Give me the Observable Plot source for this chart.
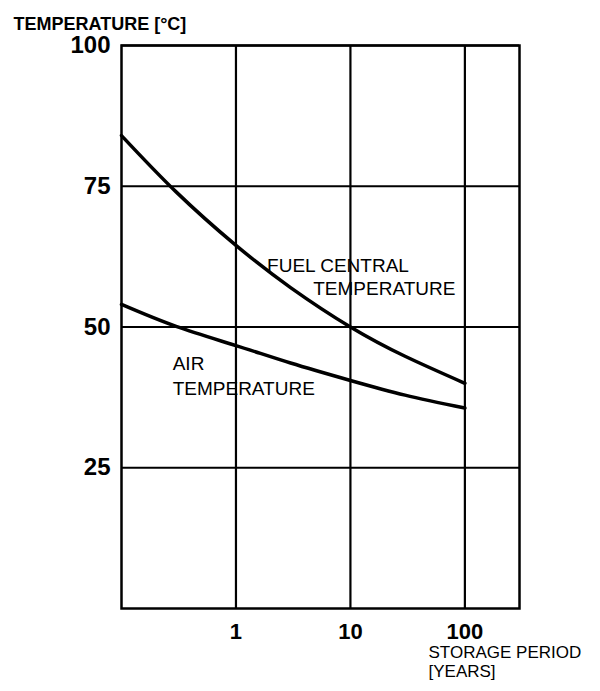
<!DOCTYPE html>
<html>
<head>
<meta charset="utf-8">
<script src="https://cdn.jsdelivr.net/npm/d3@7"></script>
<script src="https://cdn.jsdelivr.net/npm/@observablehq/plot@0.6"></script>
<style>
  html, body { margin: 0; padding: 0; background: #fff; }
  svg { display: block; }
</style>
</head>
<body>
<div id="chart"></div>
<script>
// Storage period (years) and temperatures (°C)
const fuelYears = [0.1, 0.3, 1, 3, 10, 30, 100];
const fuelTemp  = [84, 74, 64.5, 57, 50, 44.8, 40];
const airYears  = [0.1, 0.3, 1, 3, 10, 30, 100];
const airTemp   = [54, 50.1, 46.7, 43.6, 40.5, 37.9, 35.6];

const xTicks = [1, 10, 100];
const yTicks = [25, 50, 75, 100];

// Annotation labels (data coordinates)
const labelText  = ["FUEL CENTRAL", "TEMPERATURE", "AIR", "TEMPERATURE"];
const labelYears = [1.87, 4.73, 0.28, 0.28];
const labelTemp  = [59.7, 55.6, 42.3, 38.0];

const fuel = fuelYears.map((x, i) => ({x, y: fuelTemp[i]}));
const air = airYears.map((x, i) => ({x, y: airTemp[i]}));
const labels = labelText.map((t, i) => ({t, x: labelYears[i], y: labelTemp[i]}));

const font = "'Liberation Sans', Arial, sans-serif";

const chart = Plot.plot({
  width: 600,
  height: 691,
  marginLeft: 121,
  marginRight: 81,
  marginTop: 45,
  marginBottom: 83,
  style: {fontFamily: font, background: "#fff", color: "#000"},
  x: {type: "log", domain: [0.1, 300]},
  y: {domain: [0, 100]},
  marks: [
    Plot.gridX(xTicks, {stroke: "#000", strokeOpacity: 1, strokeWidth: 2.2}),
    Plot.gridY(yTicks, {stroke: "#000", strokeOpacity: 1, strokeWidth: 2}),
    Plot.frame({stroke: "#000", strokeWidth: 2.5}),
    Plot.axisY(yTicks, {tickSize: 0, tickPadding: 11, fontSize: 24, fontWeight: "bold", label: null, tickFormat: d => d}),
    Plot.axisX(xTicks, {tickSize: 0, tickPadding: 15, fontSize: 22, fontWeight: "bold", label: null, tickFormat: d => d}),
    Plot.line(fuel, {x: "x", y: "y", curve: "natural", stroke: "#000", strokeWidth: 3.5}),
    Plot.line(air, {x: "x", y: "y", curve: "natural", stroke: "#000", strokeWidth: 3.5}),
    Plot.text(labels, {x: "x", y: "y", text: "t", textAnchor: "start", lineAnchor: "bottom", fontSize: 19, fill: "#000"}),
    Plot.text(["TEMPERATURE [°C]"], {frameAnchor: "top-left", textAnchor: "start", lineAnchor: "bottom", dx: -108, dy: -16, fontSize: 18, fontWeight: "bold", letterSpacing: "-1px", fill: "#000"}),
    Plot.text(["STORAGE PERIOD"], {frameAnchor: "bottom-right", textAnchor: "start", lineAnchor: "bottom", dx: -91, dy: 49, fontSize: 17, fill: "#000"}),
    Plot.text(["[YEARS]"], {frameAnchor: "bottom-right", textAnchor: "start", lineAnchor: "bottom", dx: -91, dy: 68, fontSize: 17, fill: "#000"})
  ]
});
document.getElementById("chart").appendChild(chart);
</script>
</body>
</html>
